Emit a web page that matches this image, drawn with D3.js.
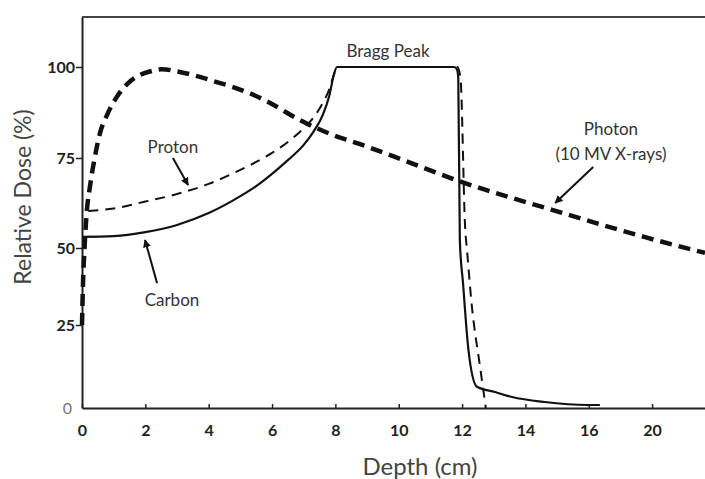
<!DOCTYPE html>
<html>
<head>
<meta charset="utf-8">
<script src="https://cdn.jsdelivr.net/npm/d3@7"></script>
<style>
body { margin:0; background:#fff; }
svg { display:block; font-family: Lato, "Open Sans", sans-serif; }
</style>
</head>
<body>
<svg id="chart"></svg>
<script>

// photon (10 MV x-rays)
var photonDepth = [0, 0.03, 0.08, 0.15, 0.25, 0.4, 0.57, 0.8, 1.1, 1.45, 1.83, 2.2, 2.52, 3.0, 3.63, 4.2, 4.77, 5.4, 5.94, 6.88, 7.93, 8.78, 9.88, 12.0, 14.84, 17.78, 19.67];
var photonDose  = [25, 38, 50, 60, 67, 75, 81.9, 87, 91.8, 95.5, 97.8, 98.9, 99.4, 98.8, 97.5, 96, 94.5, 92.4, 90.1, 85.4, 81.3, 78.8, 75.3, 68.3, 60.6, 53, 48.4];

// proton
var protonDepth = [0.2, 1, 2, 3, 4, 5, 5.5, 6, 6.5, 7, 7.3, 7.6, 7.8, 7.95, 8.05, 10, 11.85, 11.95, 12.1, 12.15, 12.3, 12.57, 12.75];
var protonDose  = [60.3, 61.0, 62.9, 65.0, 67.8, 71.7, 73.9, 76.4, 79.4, 83.2, 86, 90.1, 93.7, 97.8, 100, 100, 100, 97, 55, 50, 32, 12.3, 0];

// carbon
var carbonDepth = [0, 1, 2, 3, 4, 5, 5.5, 6, 6.5, 7, 7.3, 7.6, 7.8, 7.95, 8.05, 10, 11.75, 11.84, 11.88, 11.93, 12.03, 12.2, 12.47, 13.04, 13.58, 14.6, 15.97, 16.35];
var carbonDose  = [53.1, 53.3, 54.4, 56.4, 59.7, 64.4, 67.2, 70.6, 74.4, 78.6, 82.1, 86.8, 91.8, 97.8, 100, 100, 100, 99.3, 97, 52, 38.6, 17.6, 6.4, 4.8, 3.3, 1.8, 0.9, 0.9];

// axis ticks (the last x label reads 20 on the original)
var xTicks = [0, 2, 4, 6, 8, 10, 12, 14, 16, 18];
var xTickLabels = ["0", "2", "4", "6", "8", "10", "12", "14", "16", "20"];
var yTicks = [0, 25, 50, 75, 100];

// annotation labels, in depth / dose units
var labels = [
    {text:"Bragg Peak", x:9.66, y:102.8},
    {text:"Proton", x:2.87, y:76.4},
    {text:"Carbon", x:2.84, y:31.2},
    {text:"Photon", x:16.7, y:81.3},
    {text:"(10 MV X-rays)", x:16.7, y:74.4}
];
var arrows = [
    {x1:2.87, y1:75, x2:3.35, y2:67.5},
    {x1:2.37, y1:38.6, x2:1.99, y2:52.2},
    {x1:16.14, y1:72.5, x2:14.94, y2:62.5}
];

var zip = function(xs, ys)
{
    return xs.map(function(d, i) { return {x:d, y:ys[i]}; });
}

var initGraph = function(target)
{
    var screen = {width:705, height:479};

    var svg = d3.select(target)
        .attr("width", screen.width)
        .attr("height", screen.height);

    var xScale = d3.scaleLinear()
        .domain([0, 19.67])
        .range([82, 705]);

    // the printed y axis is not evenly spaced, so follow its ticks
    var yScale = d3.scaleLinear()
        .domain([0, 25, 50, 75, 100, 114])
        .range([408, 325, 248, 158, 67, 17]);

    // top frame line
    svg.append("line")
        .attr("x1", xScale(0)).attr("x2", xScale(19.67))
        .attr("y1", yScale(114)).attr("y2", yScale(114))
        .attr("stroke", "#444")
        .attr("stroke-width", 2);

    var xAxis = d3.axisBottom(xScale)
        .tickValues(xTicks)
        .tickFormat(function(d, i) { return xTickLabels[i]; })
        .tickSizeInner(-4)
        .tickSizeOuter(0)
        .tickPadding(17);

    var yAxis = d3.axisLeft(yScale)
        .tickValues(yTicks)
        .tickSizeInner(6)
        .tickSizeOuter(0)
        .tickPadding(1);

    var gx = svg.append("g")
        .classed("xaxis", true)
        .attr("transform", "translate(0," + yScale(0) + ")")
        .call(xAxis);

    var gy = svg.append("g")
        .classed("yaxis", true)
        .attr("transform", "translate(" + xScale(0) + ",0)")
        .call(yAxis);

    gx.select(".domain").attr("stroke", "#222").attr("stroke-width", 2);
    gy.select(".domain").attr("stroke", "#222").attr("stroke-width", 2);
    svg.selectAll(".tick line").attr("stroke", "#222").attr("stroke-width", 1.5);
    svg.selectAll(".tick text")
        .attr("font-family", "Lato, sans-serif")
        .attr("font-size", 16)
        .attr("font-weight", "bold")
        .attr("fill", "#222");

    // the zero on the y axis is plain grey
    gy.selectAll(".tick")
        .filter(function(d) { return d == 0; })
        .each(function()
        {
            d3.select(this).select("line").remove();
            d3.select(this).select("text")
                .attr("x", -10)
                .attr("font-weight", "normal")
                .attr("fill", "#777");
        });

    // axis titles
    svg.append("text")
        .attr("transform", "translate(23,197) rotate(-90)")
        .attr("text-anchor", "middle")
        .attr("dy", "0.35em")
        .attr("font-size", 23)
        .attr("fill", "#444")
        .text("Relative Dose (%)");

    svg.append("text")
        .attr("x", 420)
        .attr("y", 475)
        .attr("text-anchor", "middle")
        .attr("font-size", 24)
        .attr("fill", "#444")
        .text("Depth (cm)");

    drawCurves(svg, xScale, yScale);
    drawNotes(svg, xScale, yScale);
}

var drawCurves = function(svg, xScale, yScale)
{
    var line = d3.line()
        .x(function(d) { return xScale(d.x); })
        .y(function(d) { return yScale(d.y); })
        .curve(d3.curveMonotoneX);

    svg.append("path")
        .datum(zip(carbonDepth, carbonDose))
        .attr("d", line)
        .attr("fill", "none")
        .attr("stroke", "#111")
        .attr("stroke-width", 2.2);

    svg.append("path")
        .datum(zip(protonDepth, protonDose))
        .attr("d", line)
        .attr("fill", "none")
        .attr("stroke", "#111")
        .attr("stroke-width", 2)
        .attr("stroke-dasharray", "10,7");

    svg.append("path")
        .datum(zip(photonDepth, photonDose))
        .attr("d", line)
        .attr("fill", "none")
        .attr("stroke", "#111")
        .attr("stroke-width", 4.5)
        .attr("stroke-dasharray", "12,7");
}

var drawNotes = function(svg, xScale, yScale)
{
    svg.append("defs")
        .append("marker")
        .attr("id", "head")
        .attr("viewBox", "0 0 10 10")
        .attr("refX", 9)
        .attr("refY", 5)
        .attr("markerWidth", 8)
        .attr("markerHeight", 8)
        .attr("markerUnits", "userSpaceOnUse")
        .attr("orient", "auto")
        .append("path")
        .attr("d", "M0,0 L10,5 L0,10 z")
        .attr("fill", "#111");

    svg.selectAll(".note")
        .data(labels)
        .enter()
        .append("text")
        .classed("note", true)
        .attr("x", function(d) { return xScale(d.x); })
        .attr("y", function(d) { return yScale(d.y); })
        .attr("text-anchor", "middle")
        .attr("font-size", 17)
        .attr("fill", "#333")
        .text(function(d) { return d.text; });

    svg.selectAll(".arrow")
        .data(arrows)
        .enter()
        .append("line")
        .classed("arrow", true)
        .attr("x1", function(d) { return xScale(d.x1); })
        .attr("y1", function(d) { return yScale(d.y1); })
        .attr("x2", function(d) { return xScale(d.x2); })
        .attr("y2", function(d) { return yScale(d.y2); })
        .attr("stroke", "#111")
        .attr("stroke-width", 2)
        .attr("marker-end", "url(#head)");
}

initGraph("#chart");

</script>
</body>
</html>
